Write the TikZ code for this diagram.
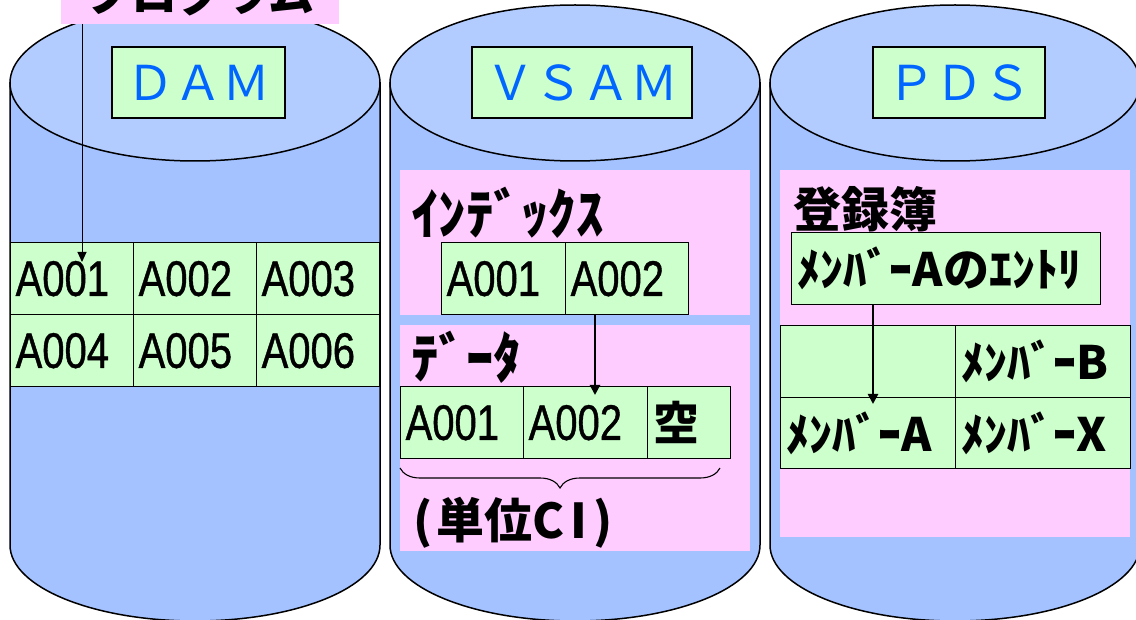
\documentclass[tikz,border=0pt]{standalone}
\usepackage{fontspec}
\usetikzlibrary{arrows.meta,decorations.pathreplacing,calc}
\newfontfamily\jp{Noto Sans CJK JP}
\newfontfamily\cellfont[FakeStretch=0.8,FakeBold=0.8]{Liberation Sans}
\definecolor{topc}{HTML}{B3CCFF}
\definecolor{bodyc}{HTML}{A3C2FF}
\definecolor{cellg}{HTML}{CCFFCC}
\definecolor{pinkc}{HTML}{FFCCFF}
\definecolor{bluet}{HTML}{0066FF}
\newcommand\drawcyl[1]{%
  \filldraw[fill=bodyc, line width=1.5pt] ({#1-185},83) -- ({#1-185},545)
     arc[start angle=180, end angle=360, x radius=185pt, y radius=76pt]
     -- ({#1+185},83) -- cycle;
  \filldraw[fill=topc, line width=1.5pt] (#1,83) ellipse[x radius=185pt, y radius=78pt];}
\begin{document}
\begin{tikzpicture}[x=1pt, y=-1pt,
  cell/.style={draw, line width=1.3pt, fill=cellg, anchor=north west,
     inner ysep=0pt, inner xsep=5pt, minimum height=72pt, align=left,
     font=\cellfont\fontsize{50}{50}\selectfont},
  jcell/.style={cell, font=\jp\bfseries\fontsize{46}{46}\selectfont},
  lab/.style={draw, line width=1.3pt, fill=cellg, minimum height=71pt,
     inner sep=0pt, text=bluet, font=\jp\fontsize{48}{48}\selectfont},
  pinkbox/.style={fill=pinkc, anchor=north west, inner sep=0pt},
  head/.style={anchor=base west, inner sep=0pt, font=\jp\bfseries\fontsize{55}{55}\selectfont},
  arr/.style={-{Triangle[length=10pt,width=9pt]}, line width=1pt},
  arrb/.style={-{Triangle[length=10pt,width=10pt]}, line width=2.5pt}]
\useasboundingbox (0,0) rectangle (1136,620);
\clip (0,0) rectangle (1136,620);

% cylinders
\drawcyl{195}
\drawcyl{575}
\drawcyl{955}

% labels
\node[lab, minimum width=173pt] (dam) at (198.5,82.5) {ＤＡＭ};
\node[lab, minimum width=220pt] (vsam) at (582,82.5) {ＶＳＡＭ};
\node[lab, minimum width=172pt] (pds) at (959,82.5) {ＰＤＳ};

% DAM table
\node[cell, minimum width=123pt, text width=113pt] (d1) at (10,242) {A001};
\node[cell, minimum width=123pt, text width=113pt] (d2) at (133,242) {A002};
\node[cell, minimum width=123pt, text width=113pt] (d3) at (256,242) {A003};
\node[cell, minimum width=123pt, text width=113pt] (d4) at (10,314) {A004};
\node[cell, minimum width=123pt, text width=113pt] (d5) at (133,314) {A005};
\node[cell, minimum width=123pt, text width=113pt] (d6) at (256,314) {A006};

% VSAM
\node[pinkbox, minimum width=350pt, minimum height=145pt] (ipink) at (400,170) {};
\node[pinkbox, minimum width=350pt, minimum height=226pt] (dpink) at (400,325) {};
\node[head] (ihead) at (411,235) {ｲﾝﾃﾞｯｸｽ};
\node[cell, minimum width=124pt, text width=114pt] (i1) at (441,242) {A001};
\node[cell, minimum width=123pt, text width=113pt] (i2) at (565,242) {A002};
\node[head] (dhead) at (411,379) {ﾃﾞｰﾀ};
\node[cell, minimum width=123pt, text width=113pt] (t1) at (400,386) {A001};
\node[cell, minimum width=124pt, text width=114pt] (t2) at (523,386) {A002};
\node[jcell, minimum width=83pt, text width=71pt, inner xsep=6pt,
      font=\jp\bfseries\fontsize{46}{46}\selectfont] (t3) at (647,386) {空};
\coordinate (bl) at (400,468);
\coordinate (br) at (720,468);
\draw[line width=1.1pt, decorate, decoration={brace, mirror, amplitude=20pt}] (bl) -- (br);
\node[anchor=base west, inner sep=0pt, font=\jp\bfseries\fontsize{48}{48}\selectfont] (unit) at (413,538)
  {(\kern4pt単位C\kern6pt I\kern6pt)};

% PDS
\node[pinkbox, minimum width=350pt, minimum height=367pt] (ppink) at (780,170) {};
\node[anchor=base west, inner sep=0pt, font=\jp\bfseries\fontsize{48}{48}\selectfont] (reg) at (793,228) {登録簿};
\node[jcell, minimum width=309pt, text width=297pt, inner xsep=6pt] (entry) at (791,232) {ﾒﾝﾊﾞｰAのｴﾝﾄﾘ};
\node[jcell, minimum width=175pt, text width=163pt, inner xsep=6pt] (m0) at (780,325) {};
\node[jcell, minimum width=175pt, text width=163pt, inner xsep=6pt] (mB) at (955,325) {ﾒﾝﾊﾞｰB};
\node[jcell, minimum width=175pt, text width=163pt, inner xsep=6pt, minimum height=71pt] (mA) at (780,397) {ﾒﾝﾊﾞｰA};
\node[jcell, minimum width=175pt, text width=163pt, inner xsep=6pt, minimum height=71pt] (mX) at (955,397) {ﾒﾝﾊﾞｰX};

% program label
\node[fill=pinkc, minimum width=278pt, minimum height=60pt, inner sep=0pt, anchor=south west,
      font=\jp\bfseries\fontsize{46}{46}\selectfont] (prog) at (61,24) {プログラム};

% arrows
\coordinate (da) at (82,262);
\draw[arr] (prog.south -| da) -- (da);
\coordinate (va) at (595,395);
\draw[arrb] (i2.south -| va) -- (va);
\coordinate (pa) at (873,404);
\draw[arrb] (entry.south -| pa) -- (pa);
\end{tikzpicture}
\end{document}
